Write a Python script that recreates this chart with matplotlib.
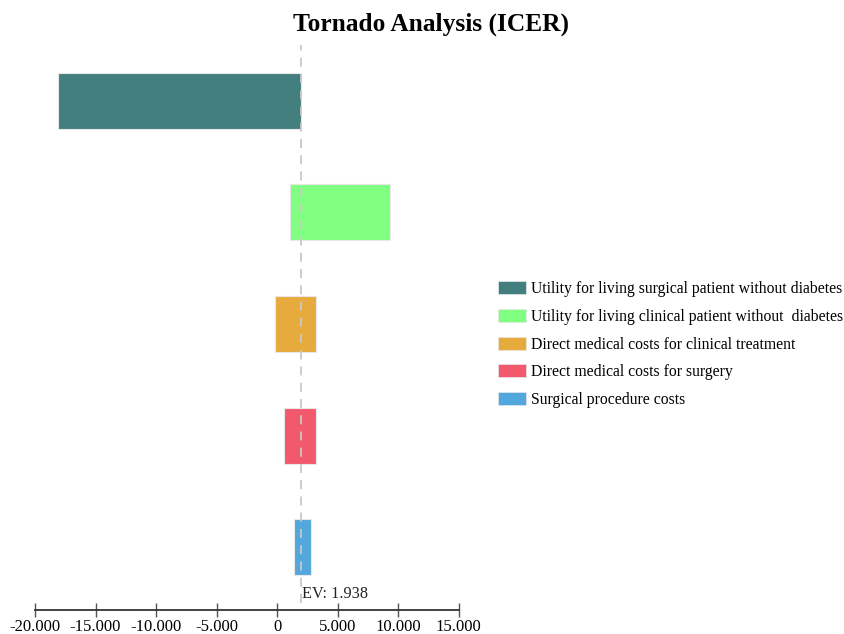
import matplotlib
matplotlib.use("Agg")
import matplotlib.pyplot as plt
from matplotlib.patches import Patch

plt.rcParams['font.family'] = ['Liberation Serif', 'DejaVu Serif']

parameters = [
    "Utility for living surgical patient without diabetes",
    "Utility for living clinical patient without  diabetes",
    "Direct medical costs for clinical treatment",
    "Direct medical costs for surgery",
    "Surgical procedure costs",
]
low_values = [-18070, 1070, -140, 550, 1380]
high_values = [1938, 9360, 3200, 3200, 2780]
colors = ["#427f7e", "#80ff80", "#e6ab3c", "#f2596d", "#52a8dc"]
ev = 1938
xticks = [-20000, -15000, -10000, -5000, 0, 5000, 10000, 15000]
xtick_labels = ["-20.000", "-15.000", "-10.000", "-5.000", "0", "5.000", "10.000", "15.000"]

fig = plt.figure(figsize=(8.45, 6.34), dpi=100)
ax = fig.add_axes([35/845, 31/634, (458.7-35)/845, (603-45)/634])

for i, (lo, hi, c) in enumerate(zip(low_values, high_values, colors)):
    ax.barh(i, hi - lo, left=lo, height=0.5, color=c, edgecolor="#e8e8e8", linewidth=0.8, zorder=2)

ax.axvline(ev, color="#c8c8c8", linestyle=(0, (5, 4)), linewidth=1.3, zorder=3)
ax.text(ev + 150, 4.42, f"EV: {ev/1000:.3f}", fontsize=11.7, ha="left", va="center", color="#222222")

ax.set_xlim(-20000, 15000)
ax.set_ylim(4.5, -0.5)
ax.set_yticks([])
for s in ["top", "right", "left"]:
    ax.spines[s].set_visible(False)
ax.spines["bottom"].set_position(("outward", 5))
ax.spines["bottom"].set_color("#333333")
ax.spines["bottom"].set_linewidth(1.3)
ax.set_xticks(xticks)
ax.set_xticklabels(xtick_labels, fontsize=12)
ax.tick_params(axis="x", direction="inout", length=9.5, width=1.0, color="#555555", pad=1.5)

fig.text(0.51, 0.962, "Tornado Analysis (ICER)", fontsize=18.3, fontweight="bold", ha="center", va="center")

handles = [Patch(facecolor=c, edgecolor="#e8e8e8", linewidth=0.5) for c in colors]
fig.legend(handles, parameters, loc="upper left", bbox_to_anchor=(498/845, 1 - 281/634),
           frameon=False, fontsize=11.3, handlelength=1.8, handleheight=0.9,
           handletextpad=0.3, labelspacing=0.75, borderpad=0, borderaxespad=0)

fig.savefig("out.png", dpi=100)
